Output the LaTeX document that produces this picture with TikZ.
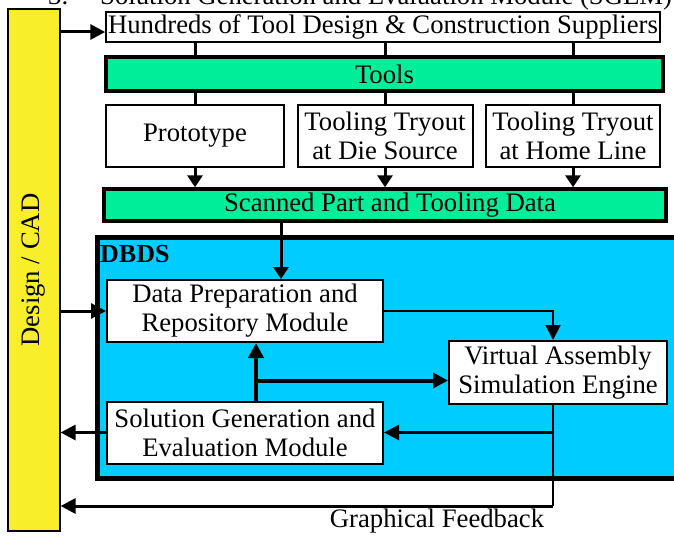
\documentclass[tikz,border=0pt]{standalone}
\usepackage{fontspec}
\setmainfont{Liberation Serif}
\usetikzlibrary{arrows.meta}

\definecolor{cadyellow}{RGB}{248,238,42}
\definecolor{toolgreen}{RGB}{0,238,153}
\definecolor{dbdsblue}{RGB}{0,204,255}

\begin{document}
\begin{tikzpicture}[x=1pt,y=-1pt,
  every node/.style={inner sep=0pt, align=center, font=\fontsize{26.7}{29}\selectfont},
  whitebox/.style={draw, fill=white, line width=2pt},
  greenband/.style={draw, fill=toolgreen, line width=3.5pt},
  tip/.style={-{Triangle[length=15pt,width=15pt]}},
  smalltip/.style={-{Triangle[length=12pt,width=15pt]}},
  link/.style={line width=3pt},
  thinlink/.style={line width=2pt},
  heavylink/.style={line width=4pt},
]
\useasboundingbox (0,0) rectangle (674,535);
\clip (0,0) rectangle (674,535);

% heading line of the page, cut by the top edge
\node[anchor=base west] (heading) at (48,4.5)
  {3.\hspace{32pt}Solution Generation and Evaluation Module (SGEM)};

% Design / CAD column
\node[draw, fill=cadyellow, line width=1.2pt, minimum width=52pt, minimum height=522pt]
  (cad) at (34,270) {};
\node[rotate=90] (cadlabel) at (34,270) {Design / CAD};

% supplier chain
\node[draw, fill=white, line width=1.5pt, minimum width=554pt, minimum height=30pt]
  (top) at (383,27) {Hundreds of Tool Design \& Construction Suppliers};
\node[greenband, minimum width=557pt, minimum height=34pt] (tools) at (384.5,74) {Tools};
\node[whitebox, minimum width=178pt, minimum height=62pt] (proto) at (195,136) {Prototype};
\node[whitebox, minimum width=175pt, minimum height=62pt] (die) at (385,136)
  {Tooling Tryout\\at Die Source};
\node[whitebox, minimum width=174pt, minimum height=62pt] (home) at (573,136)
  {Tooling Tryout\\at Home Line};
\node[greenband, minimum width=562pt, minimum height=32pt] (scan) at (385,205)
  {\hspace*{10pt}Scanned Part and Tooling Data};

% DBDS region
\node[draw, fill=dbdsblue, line width=5pt, minimum width=600pt, minimum height=241pt]
  (dbds) at (397,357.5) {};
\node[anchor=north west, font=\fontsize{26}{29}\selectfont\bfseries] (dbdslabel)
  at (100,245) {DBDS};
\node[whitebox, minimum width=276pt, minimum height=62pt] (prep) at (245,311)
  {Data Preparation and\\Repository Module};
\node[whitebox, minimum width=218pt, minimum height=63pt] (vase) at (558,372.5)
  {Virtual Assembly\\Simulation Engine};
\node[whitebox, minimum width=276pt, minimum height=62pt] (sol) at (245,432.5)
  {Solution Generation and\\Evaluation Module};

\node (fblabel) at (437,521) {Graphical Feedback};

% connector end points
\coordinate (topin) at ([yshift=-5pt]top.west);
\coordinate (prepin) at ([xshift=36pt]prep.north);
\coordinate (vtop) at ([xshift=-5pt]vase.north);
\coordinate (vbot) at ([xshift=-5pt]vase.south);
\coordinate (solup) at ([xshift=11pt]sol.north);
\coordinate (vin) at ([yshift=-8pt]vase.west);
\coordinate (fbcorner) at (vbot |- 0,506);

% supplier chain connectors
\draw[link, tip] (cad.east |- topin) -- (topin);
\foreach \b in {proto,die,home}{
  \draw[link] (top.south -| \b) -- (tools.north -| \b);
  \draw[link] (tools.south -| \b) -- (\b.north);
  \draw[link, smalltip] (\b.south) -- (scan.north -| \b);
}
\draw[link, smalltip] (prepin |- scan.south) -- (prepin);

% DBDS connectors
\draw[link, tip] (cad.east |- prep.west) -- (prep.west);
\draw[thinlink, tip] (prep.east) -| (vtop);
\draw[heavylink, tip] (solup) -- (solup |- prep.south);
\draw[heavylink, tip] (solup |- vin) -- (vin);
\draw[thinlink] (vbot) -- (fbcorner);
\draw[link, tip] ([xshift=1pt]vbot |- sol.east) -- (sol.east);
\draw[link, tip] (sol.west) -- (cad.east |- sol.west);
\draw[link, tip] (fbcorner) -- (cad.east |- fbcorner);
\end{tikzpicture}
\end{document}
